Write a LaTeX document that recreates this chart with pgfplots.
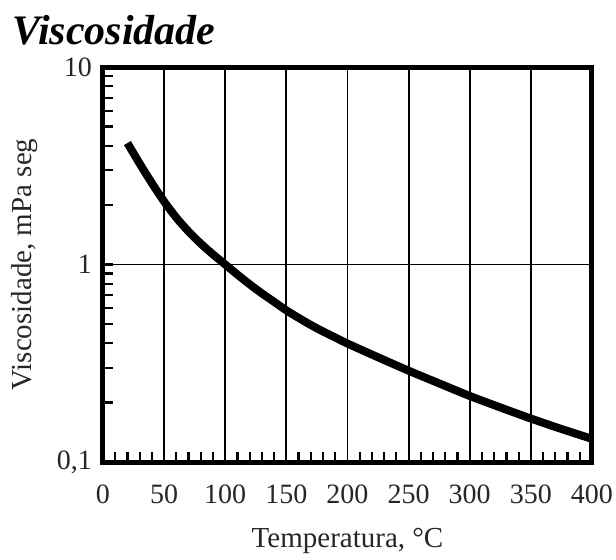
\documentclass[border=0pt]{standalone}
\usepackage{fontspec}
\setmainfont{Liberation Serif}
\usepackage{pgfplots}
\pgfplotsset{compat=1.18}
\begin{document}
\begin{tikzpicture}
\path[use as bounding box] (-51.5pt,-48.5pt) rectangle (256.5pt,231pt);
\begin{axis}[
  at={(0,0)}, anchor=south west,
  scale only axis,
  width=244.5pt, height=197.5pt,
  ymode=log,
  xmin=0, xmax=400, ymin=0.1, ymax=10,
  xtick={0,50,...,400},
  ytick={0.1,1,10},
  yticklabels={{0,1},1,10},
  minor x tick num=4,
  tick align=inside,
  xtick pos=bottom, ytick pos=left,
  major tick length=0pt,
  minor tick length=5pt,
  every tick/.style={black, line width=1.1pt},
  minor tick style={black, line width=1.1pt},
  xmajorgrids, ymajorgrids,
  major grid style={black, line width=0.9pt},
  axis line style={line width=2.5pt},
  /pgf/number format/assume math mode=true,
  tick label style={font=\fontsize{14}{16}\selectfont, text=black!85},
  xticklabel style={yshift=-8pt},
  yticklabel style={xshift=-2pt},
  xlabel={Temperatura, °C},
  ylabel={Viscosidade, mPa seg},
  label style={font=\fontsize{14.5}{17}\selectfont, text=black!85},
  xlabel style={at={(axis description cs:0.5,-0.2)}, anchor=center},
  ylabel style={at={(axis description cs:-0.16,0.5)}, anchor=center},
  clip=true,
]
\addplot[black, line width=4pt, smooth] coordinates {
(20,4.121) (30,3.243) (40,2.582) (50,2.084) (60,1.726) (70,1.469) (80,1.276) (90,1.125) (100,1.0)
(110,0.889) (120,0.794) (130,0.714) (140,0.647) (150,0.586) (160,0.537) (170,0.494) (180,0.458) (190,0.427) (200,0.398)
(225,0.339) (250,0.290) (275,0.250) (300,0.216) (325,0.189) (350,0.166) (375,0.147) (400,0.131)
};
\end{axis}
\node[anchor=base west, font=\fontsize{21}{24}\bfseries\itshape\selectfont, inner sep=0pt] at (-45.5pt,209pt) {Viscosidade};
\end{tikzpicture}
\end{document}
